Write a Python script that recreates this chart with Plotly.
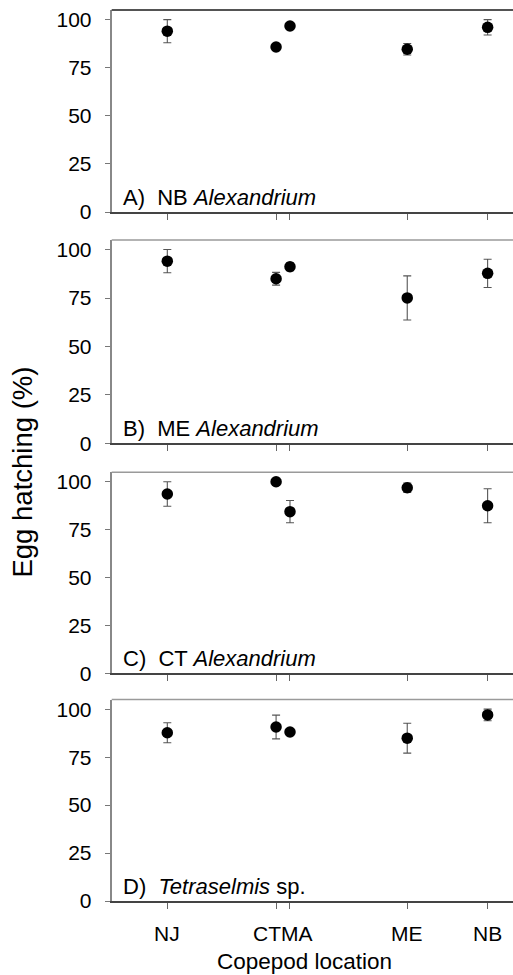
import plotly.graph_objects as go

# ---------------- data ----------------
sites = ["NJ", "CT", "MA", "ME", "NB"]
site_pos = [39.5, 41.3, 41.53, 43.47, 44.8]          # copepod location positions on x
label_text = ["NJ", "CTMA", "ME", "NB"]
label_pos = [39.5, 41.415, 43.47, 44.8]

panel_titles = [
    "A)\u00a0\u00a0NB <i>Alexandrium</i>",
    "B)\u00a0\u00a0ME <i>Alexandrium</i>",
    "C)\u00a0\u00a0CT <i>Alexandrium</i>",
    "D)\u00a0\u00a0<i>Tetraselmis</i> sp.",
]

hatch_A = [94.0, 85.8, 96.7, 84.6, 96.0]
err_A = [6.0, 1.0, 1.5, 3.0, 4.0]
hatch_B = [94.1, 85.0, 91.2, 75.1, 87.8]
err_B = [6.0, 3.3, 2.0, 11.4, 7.3]
hatch_C = [93.6, 100.0, 84.4, 96.9, 87.5]
err_C = [6.4, 0.0, 5.8, 2.5, 8.9]
hatch_D = [87.7, 90.7, 88.1, 84.9, 97.0]
err_D = [5.2, 6.2, 1.0, 7.8, 3.0]

y_ticks = [0, 25, 50, 75, 100]

panels = [(hatch_A, err_A), (hatch_B, err_B), (hatch_C, err_C), (hatch_D, err_D)]

# ---------------- layout geometry ----------------
REF_W, REF_H = 513, 975
W, H = 513, 987
FONT = "Liberation Sans, Arial, Helvetica, sans-serif"
x_range = [38.58, 45.22]
y_range = [0, 105]


def px_x(v):
    return v / REF_W


def px_y(v):
    return 1 - v / REF_H


x_dom = [px_x(111.7), 1.0]
panel_px = [(8, 210.3), (238.3, 441.7), (470.7, 672), (698.3, 900)]
top_colors = ["#1a1a1a", "#9a9a9a", "#9a9a9a", "#9a9a9a"]

fig = go.Figure()
layout = dict(
    width=W, height=H,
    margin=dict(l=0, r=0, t=0, b=0),
    paper_bgcolor="white", plot_bgcolor="white",
    showlegend=False,
    font=dict(family=FONT, color="black"),
    shapes=[], annotations=[],
)

for i, ((vals, errs), (top, bot)) in enumerate(zip(panels, panel_px), start=1):
    xa = "x" if i == 1 else f"x{i}"
    ya = "y" if i == 1 else f"y{i}"
    fig.add_trace(go.Scatter(
        x=site_pos, y=vals, mode="markers", xaxis=xa, yaxis=ya,
        marker=dict(size=11.5, color="black"),
        error_y=dict(type="data", array=errs, visible=True,
                     color="#555555", thickness=1.1, width=4),
        cliponaxis=False,
    ))
    layout[f"xaxis{'' if i == 1 else i}"] = dict(
        domain=x_dom, anchor=ya, range=x_range,
        tickvals=site_pos, ticktext=[""] * len(site_pos),
        ticks="outside", ticklen=6, tickwidth=1, tickcolor="#666666",
        showline=True, linecolor="#444444", linewidth=1.5,
        showgrid=False, zeroline=False, fixedrange=True,
    )
    layout[f"yaxis{'' if i == 1 else i}"] = dict(
        domain=[px_y(bot), px_y(top)], anchor=xa, range=y_range,
        tickvals=y_ticks, ticks="outside", ticklen=5, tickwidth=1,
        tickcolor="#777777", ticklabelstandoff=9, ticklabeloverflow="allow",
        tickfont=dict(size=21, family=FONT, color="black"),
        showline=True, linecolor="#888888", linewidth=2,
        showgrid=False, zeroline=False, fixedrange=True,
    )
    layout["shapes"].append(dict(
        type="line", xref=f"{xa} domain", yref=f"{ya} domain",
        x0=0, x1=1, y0=1, y1=1, line=dict(color=top_colors[i - 1], width=1.5),
    ))
    layout["annotations"].append(dict(
        text=panel_titles[i - 1], xref=f"{xa} domain", yref=f"{ya} domain",
        x=0.024, y=0.0, xanchor="left", yanchor="bottom", showarrow=False,
        font=dict(size=22, family=FONT, color="black"),
    ))

# site names beneath the bottom panel, placed on the bottom x axis scale
for lx, lt in zip(label_pos, label_text):
    layout["annotations"].append(dict(
        text=lt, xref="x4", yref="paper", x=lx, y=px_y(932),
        xanchor="center", yanchor="middle", showarrow=False,
        font=dict(size=21, family=FONT, color="black"),
    ))

layout["annotations"].append(dict(
    text="Copepod location", xref="paper", yref="paper",
    x=px_x(304), y=px_y(960), xanchor="center", yanchor="middle",
    showarrow=False, font=dict(size=22.5, family=FONT, color="black"),
))
layout["annotations"].append(dict(
    text="Egg hatching (%)", xref="paper", yref="paper",
    x=px_x(23), y=px_y(471), xanchor="center", yanchor="middle",
    textangle=-90, showarrow=False,
    font=dict(size=27.5, family=FONT, color="black"),
))

fig.update_layout(**layout)
fig.write_html(
    "out.html",
    config={"displayModeBar": False},
    post_script="document.body.style.margin='0';document.body.style.overflow='hidden';",
)
